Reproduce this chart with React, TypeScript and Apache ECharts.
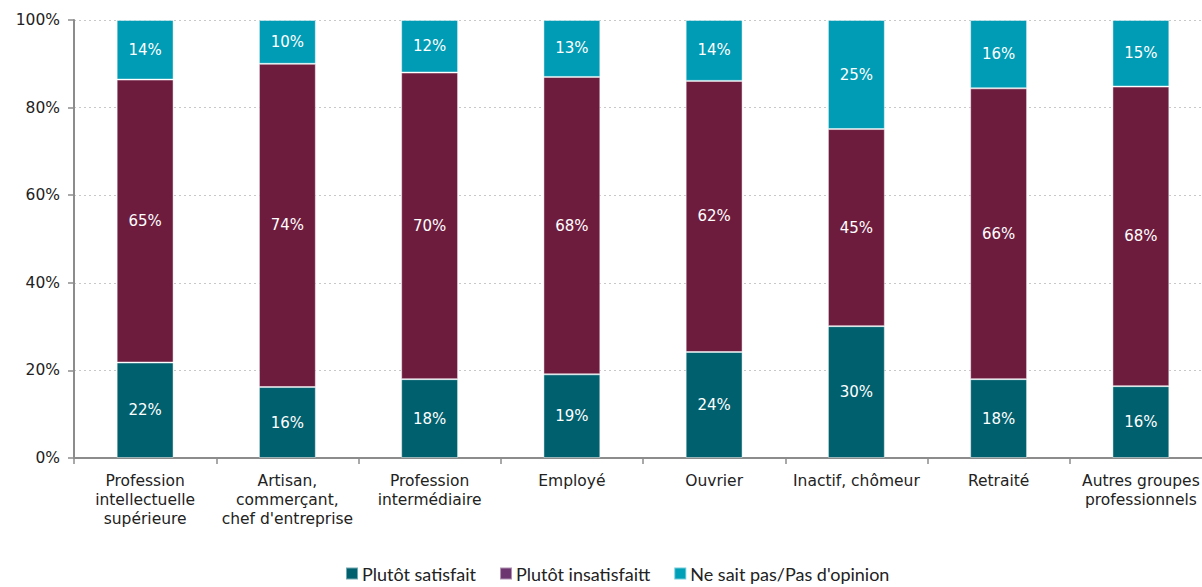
import React, { useEffect, useRef } from "react";
import * as echarts from "echarts";

const categories = [
  "Profession\nintellectuelle\nsupérieure",
  "Artisan,\ncommerçant,\nchef d'entreprise",
  "Profession\nintermédiaire",
  "Employé",
  "Ouvrier",
  "Inactif, chômeur",
  "Retraité",
  "Autres groupes\nprofessionnels",
];
const satisfait = [21.8, 16.2, 18.0, 19.1, 24.2, 30.1, 18.0, 16.4];
const insatisfait = [64.6, 73.8, 70.0, 67.9, 61.9, 45.0, 66.4, 68.4];
const nsp = [13.6, 10.0, 12.0, 13.0, 13.9, 24.9, 15.6, 15.2];
const seriesNames = ["Plutôt satisfait", "Plutôt insatisfaitt", "Ne sait pas/Pas d'opinion"];
const yTicks = [0, 20, 40, 60, 80, 100];

const barColors = ["#00606e", "#6e1c3e", "#009bb4"];
const legendColors = ["#00606e", "#6e3670", "#00a0b8"];

export default function App() {
  const ref = useRef<HTMLDivElement>(null);
  useEffect(() => {
    document.body.style.margin = "0";
    const chart = echarts.init(ref.current!, null, { renderer: "svg" });
    const datasets = [satisfait, insatisfait, nsp];
    chart.setOption({
      animation: false,
      grid: { left: 74, top: 20, width: 1138, height: 438, containLabel: false, outerBoundsMode: "none" },
      legend: {
        left: 345,
        top: 564,
        padding: 0,
        itemWidth: 12,
        itemHeight: 12,
        itemGap: 23,
        icon: "rect",
        textStyle: { fontFamily: "Lato", fontSize: 18, lineHeight: 19, color: "#222", padding: [0, 0, 0, -1] },
        data: seriesNames.map((n, i) => ({ name: n, itemStyle: { color: legendColors[i] } })),
      },
      xAxis: {
        type: "category",
        data: categories,
        axisLine: { lineStyle: { color: "#8c8c8c", width: 2 } },
        axisTick: { show: true, length: 6, alignWithLabel: false, lineStyle: { color: "#8c8c8c", width: 1.5 } },
        axisLabel: {
          interval: 0,
          margin: 13,
          fontFamily: "DejaVu Sans",
          fontSize: 15.5,
          lineHeight: 19,
          color: "#222",
        },
      },
      yAxis: {
        type: "value",
        min: 0,
        max: 100,
        interval: 20,
        axisLine: { show: true, lineStyle: { color: "#8c8c8c", width: 2 } },
        axisTick: { show: true, length: 6, lineStyle: { color: "#8c8c8c", width: 1.5 } },
        splitLine: { lineStyle: { color: "#c8c8c8", type: [2, 3], width: 1 } },
        axisLabel: {
          margin: 14,
          fontFamily: "DejaVu Sans",
          fontSize: 15.5,
          color: "#222",
          formatter: (v: number) => (yTicks.includes(v) ? v + "%" : ""),
        },
      },
      series: datasets.map((d, i) => ({
        name: seriesNames[i],
        type: "bar",
        stack: "total",
        barWidth: "40%",
        data: d,
        itemStyle: { color: barColors[i], borderColor: "rgba(255,255,255,0.45)", borderWidth: 1 },
        label: {
          show: true,
          position: "inside",
          color: "#fff",
          fontFamily: "DejaVu Sans",
          fontSize: 15,
          formatter: (p: any) => Math.round(p.value) + "%",
        },
      })),
    });
    return () => chart.dispose();
  }, []);
  return <div ref={ref} style={{ width: 1202, height: 587 }} />;
}
